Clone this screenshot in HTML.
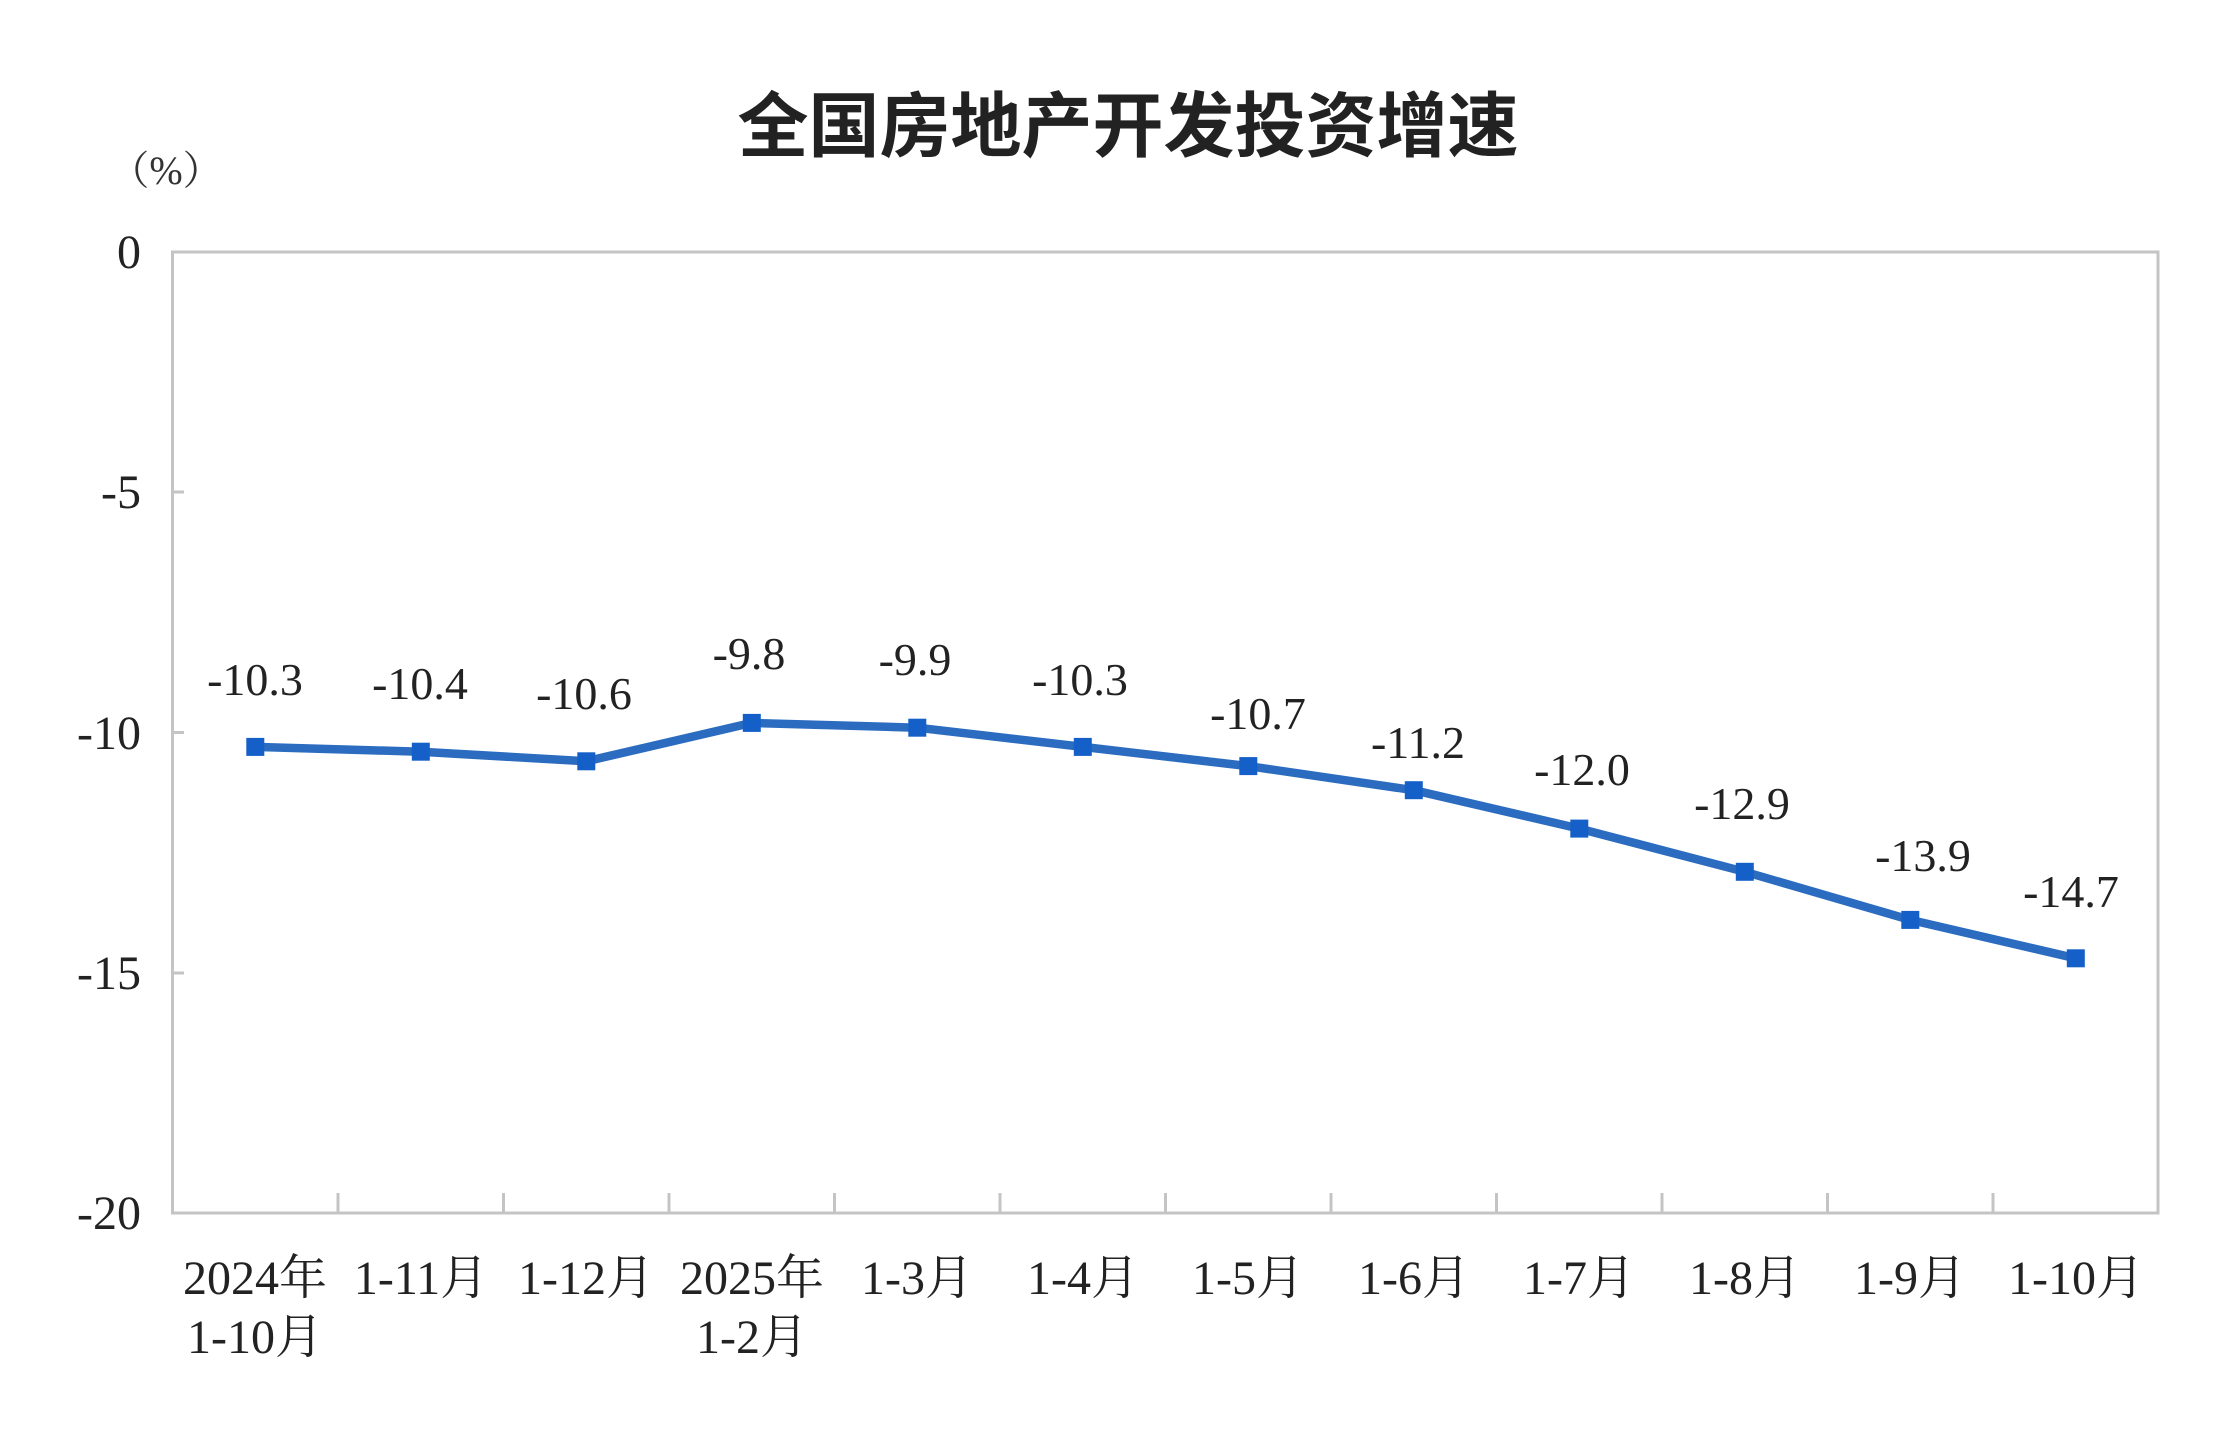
<!DOCTYPE html>
<html><head><meta charset="utf-8"><style>html,body{margin:0;padding:0;background:#fff}svg{display:block}</style></head>
<body>
<svg width="2216" height="1444" viewBox="0 0 2216 1444" xmlns="http://www.w3.org/2000/svg" font-family="'Liberation Serif','Noto Serif CJK SC',serif">
<rect width="2216" height="1444" fill="#fff"/>
<text x="1128" y="151" text-anchor="middle" font-size="71" font-weight="bold" font-family="'Liberation Sans','Noto Sans CJK SC',sans-serif" fill="#222">全国房地产开发投资增速</text>
<text x="166" y="184" text-anchor="middle" font-size="40" fill="#333" font-family="'Liberation Serif','Noto Serif CJK SC',serif">（%）</text>
<rect x="172.5" y="252" width="1985.5" height="961" fill="none" stroke="#c4c4c4" stroke-width="3"/>
<g stroke="#c4c4c4" stroke-width="3">
<line x1="172.5" y1="492" x2="184" y2="492"/><line x1="172.5" y1="732.5" x2="184" y2="732.5"/><line x1="172.5" y1="973" x2="184" y2="973"/>
<line x1="338" y1="1213" x2="338" y2="1193"/><line x1="503.5" y1="1213" x2="503.5" y2="1193"/><line x1="669" y1="1213" x2="669" y2="1193"/><line x1="834.5" y1="1213" x2="834.5" y2="1193"/><line x1="1000" y1="1213" x2="1000" y2="1193"/><line x1="1165.5" y1="1213" x2="1165.5" y2="1193"/><line x1="1331" y1="1213" x2="1331" y2="1193"/><line x1="1496.5" y1="1213" x2="1496.5" y2="1193"/><line x1="1662" y1="1213" x2="1662" y2="1193"/><line x1="1827.5" y1="1213" x2="1827.5" y2="1193"/><line x1="1993" y1="1213" x2="1993" y2="1193"/>
</g>
<g font-size="48" fill="#222" text-anchor="end">
<text x="141" y="268">0</text><text x="141" y="508">-5</text><text x="141" y="749">-10</text><text x="141" y="989">-15</text><text x="141" y="1229">-20</text>
</g>
<g font-size="48" fill="#222" text-anchor="middle">
<text x="255" y="1294">2024年</text><text x="255" y="1353">1-10月</text>
<text x="421" y="1294">1-11月</text><text x="586" y="1294">1-12月</text>
<text x="752" y="1294">2025年</text><text x="752" y="1353">1-2月</text>
<text x="917" y="1294">1-3月</text><text x="1083" y="1294">1-4月</text><text x="1248" y="1294">1-5月</text><text x="1414" y="1294">1-6月</text><text x="1579" y="1294">1-7月</text><text x="1745" y="1294">1-8月</text><text x="1910" y="1294">1-9月</text><text x="2076" y="1294">1-10月</text>
</g>
<polyline fill="none" stroke="#2b6cc0" stroke-width="8.5" stroke-linejoin="round" points="255.3,746.9 420.8,751.7 586.3,761.3 751.8,722.9 917.3,727.7 1082.8,746.9 1248.3,766.1 1413.8,790.2 1579.3,828.6 1744.8,871.8 1910.3,919.9 2075.8,958.3"/>
<g fill="#1560c8">
<rect x="246.3" y="737.9" width="18" height="18"/><rect x="411.8" y="742.7" width="18" height="18"/><rect x="577.3" y="752.3" width="18" height="18"/><rect x="742.8" y="713.9" width="18" height="18"/><rect x="908.3" y="718.7" width="18" height="18"/><rect x="1073.8" y="737.9" width="18" height="18"/><rect x="1239.3" y="757.1" width="18" height="18"/><rect x="1404.8" y="781.2" width="18" height="18"/><rect x="1570.3" y="819.6" width="18" height="18"/><rect x="1735.8" y="862.8" width="18" height="18"/><rect x="1901.3" y="910.9" width="18" height="18"/><rect x="2066.8" y="949.3" width="18" height="18"/>
</g>
<g font-size="46" fill="#222" text-anchor="middle">
<text x="255" y="695">-10.3</text><text x="420" y="699">-10.4</text><text x="584" y="709">-10.6</text><text x="749" y="669">-9.8</text><text x="915" y="675">-9.9</text><text x="1080" y="695">-10.3</text><text x="1258" y="729">-10.7</text><text x="1418" y="758">-11.2</text><text x="1582" y="785">-12.0</text><text x="1742" y="819">-12.9</text><text x="1923" y="871">-13.9</text><text x="2071" y="907">-14.7</text>
</g>
</svg>
</body></html>
